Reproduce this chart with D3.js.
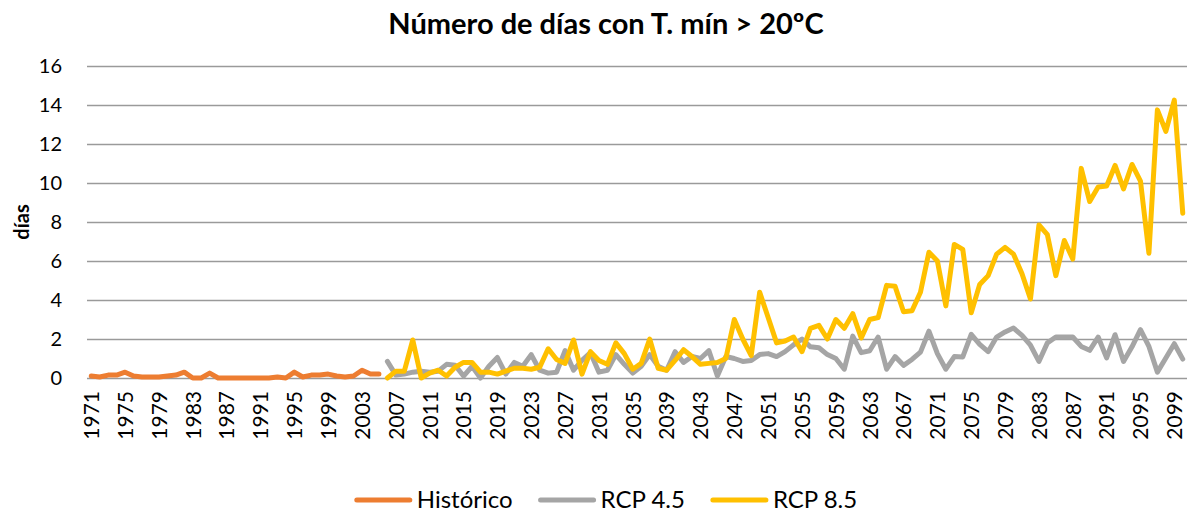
<!DOCTYPE html>
<html lang="es">
<head>
<meta charset="UTF-8">
<title>Número de días con T. mín > 20ºC</title>
<script src="https://d3js.org/d3.v7.min.js"></script>
<style>
  body { margin: 0; background: #fff; }
  svg { font-family: Lato, "Open Sans", sans-serif; }
</style>
</head>
<body>
<svg width="1190" height="516"></svg>
<script>
// series names and values
const seriesNames = ['Histórico', 'RCP 4.5', 'RCP 8.5'];

const historicStart = 1971;
const historic = [
  0.1, 0.05, 0.15, 0.15, 0.3, 0.1, 0.05, 0.05, 0.05, 0.1,
  0.15, 0.3, 0.0, 0.0, 0.25, 0.0, 0.0, 0.0, 0.0, 0.0,
  0.0, 0.0, 0.05, 0.0, 0.3, 0.05, 0.15, 0.15, 0.2, 0.1,
  0.05, 0.1, 0.4, 0.2, 0.2
];

const scenarioStart = 2006;
const rcp45 = [
  0.85, 0.15, 0.2, 0.3, 0.35, 0.3, 0.35, 0.7, 0.65, 0.1,
  0.6, 0.0, 0.6, 1.05, 0.2, 0.8, 0.6, 1.2, 0.4, 0.25,
  0.3, 1.4, 0.4, 0.9, 1.3, 0.3, 0.4, 1.2, 0.7, 0.25,
  0.6, 1.2, 0.6, 0.4, 1.35, 0.8, 1.1, 1.0, 1.4, 0.1,
  1.1, 1.0, 0.85, 0.9, 1.2, 1.25, 1.1, 1.35, 1.7, 2.0,
  1.6, 1.55, 1.2, 1.0, 0.45, 2.15, 1.3, 1.4, 2.1, 0.45,
  1.1, 0.65, 0.95, 1.33, 2.4, 1.25, 0.45, 1.1, 1.08, 2.24,
  1.73, 1.35, 2.1, 2.36, 2.56, 2.19, 1.68, 0.85, 1.8, 2.1,
  2.1, 2.1, 1.62, 1.42, 2.1, 1.03, 2.22, 0.85, 1.6, 2.48,
  1.62, 0.3, 1.03, 1.76, 0.97
];
const rcp85 = [
  0.0, 0.35, 0.35, 1.95, 0.0, 0.25, 0.4, 0.1, 0.55, 0.8,
  0.8, 0.3, 0.3, 0.2, 0.35, 0.5, 0.5, 0.45, 0.55, 1.5,
  0.95, 0.75, 1.95, 0.2, 1.35, 0.9, 0.7, 1.8, 1.25, 0.45,
  0.75, 2.0, 0.5, 0.4, 0.9, 1.45, 1.1, 0.7, 0.75, 0.8,
  1.0, 3.0, 2.0, 1.15, 4.4, 3.1, 1.8, 1.9, 2.1, 1.35,
  2.55, 2.7, 2.0, 3.0, 2.55, 3.3, 2.05, 3.0, 3.1, 4.75,
  4.7, 3.4, 3.45, 4.4, 6.45, 6.0, 3.7, 6.85, 6.6, 3.35,
  4.8, 5.25, 6.35, 6.7, 6.35, 5.35, 4.05, 7.85, 7.35, 5.25,
  7.05, 6.1, 10.75, 9.05, 9.8, 9.85, 10.9, 9.7, 10.95, 10.1,
  6.4, 13.75, 12.65, 14.25, 8.45
];

const years = d3.range(1971, 2101);
const xTickYears = d3.range(1971, 2101, 4);
const yTicks = [0, 2, 4, 6, 8, 10, 12, 14, 16];

const toPoints = (vals, start) => vals.map((v, i) => ({ year: start + i, value: v }));
const series = [
  { name: seriesNames[0], points: toPoints(historic, historicStart) },
  { name: seriesNames[1], points: toPoints(rcp45, scenarioStart) },
  { name: seriesNames[2], points: toPoints(rcp85, scenarioStart) }
];

const svg = d3.select('svg');
const plot = { left: 87, right: 1187, top: 66, bottom: 378 };

const x = d3.scalePoint().domain(years).range([plot.left, plot.right]).padding(0.5);
const y = d3.scaleLinear().domain([0, 16]).range([plot.bottom, plot.top]);
const color = d3.scaleOrdinal().domain(seriesNames).range(['#ED7D31', '#A5A5A5', '#FFC000']);

// title
svg.append('text')
  .attr('x', 606).attr('y', 34)
  .attr('text-anchor', 'middle')
  .attr('font-size', 29).attr('font-weight', 'bold')
  .text('Número de días con T. mín > 20ºC');

// y axis with gridlines
const yAxis = svg.append('g')
  .attr('transform', `translate(${plot.left},0)`)
  .call(d3.axisLeft(y).tickValues(yTicks).tickSize(-(plot.right - plot.left)).tickPadding(25));
yAxis.select('.domain').remove();
yAxis.selectAll('line').attr('stroke', '#9a9a9a').attr('stroke-width', 1.5);
yAxis.selectAll('text').attr('font-size', 20).attr('font-family', 'Lato').attr('fill', '#000');

// y title
svg.append('text')
  .attr('transform', 'translate(29,222) rotate(-90)')
  .attr('text-anchor', 'middle')
  .attr('font-size', 20).attr('font-weight', 'bold')
  .text('días');

// x axis
const xAxis = svg.append('g')
  .attr('transform', `translate(0,${plot.bottom})`)
  .call(d3.axisBottom(x).tickValues(xTickYears).tickSize(0).tickPadding(0));
xAxis.select('.domain').remove();
xAxis.selectAll('text')
  .attr('y', 0).attr('x', 0).attr('dy', '0.35em')
  .attr('text-anchor', 'end')
  .attr('transform', 'translate(0,13) rotate(-90)')
  .attr('font-size', 21).attr('font-family', 'Lato').attr('fill', '#000');

// lines
const line = d3.line().x(d => x(d.year)).y(d => y(d.value));
svg.append('g').selectAll('path')
  .data(series)
  .enter()
  .append('path')
  .attr('d', d => line(d.points))
  .attr('fill', 'none')
  .attr('stroke', d => color(d.name))
  .attr('stroke-width', 5)
  .attr('stroke-linejoin', 'round')
  .attr('stroke-linecap', 'round');

// legend
const legend = svg.append('g');
let lx = 0;
seriesNames.forEach(name => {
  const item = legend.append('g').attr('transform', `translate(${lx},0)`);
  item.append('line')
    .attr('x1', 0).attr('x2', 53).attr('y1', 0).attr('y2', 0)
    .attr('stroke', color(name)).attr('stroke-width', 5).attr('stroke-linecap', 'round');
  const t = item.append('text')
    .attr('x', 60).attr('dy', '0.35em')
    .attr('font-size', 24)
    .text(name);
  lx += 60 + t.node().getComputedTextLength() + 28;
});
const legendWidth = lx - 28;
legend.attr('transform', `translate(${607 - legendWidth / 2},500)`);
</script>
</body>
</html>
